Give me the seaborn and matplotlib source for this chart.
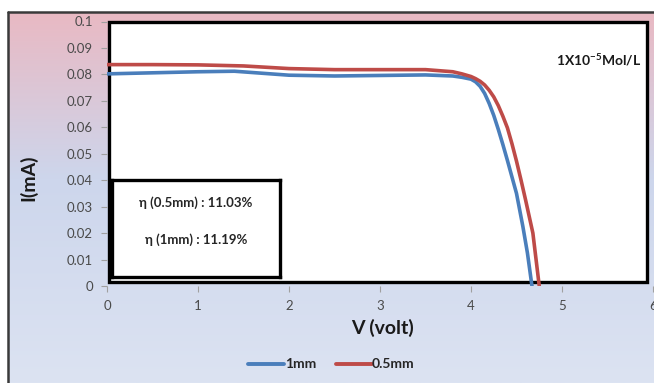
import numpy as np
import pandas as pd
import matplotlib
matplotlib.use("Agg")
import matplotlib.pyplot as plt
import seaborn as sns
from matplotlib.colors import LinearSegmentedColormap
from matplotlib.patches import Rectangle

# ---- data ----
v_1mm = [0.0, 0.5, 1.0, 1.4, 2.0, 2.5, 3.0, 3.5, 3.8, 3.9, 4.0, 4.05, 4.1, 4.15, 4.2, 4.25, 4.3,
         4.35, 4.4, 4.5, 4.57, 4.62, 4.67]
i_1mm = [0.0802, 0.0806, 0.0810, 0.0812, 0.0797, 0.0794, 0.0796, 0.0798, 0.0794, 0.0789, 0.0782,
         0.0772, 0.0755, 0.0728, 0.0690, 0.0645, 0.0592, 0.0535, 0.0475, 0.0350, 0.0225,
         0.0125, 0.0]
v_05mm = [0.0, 0.5, 1.0, 1.5, 2.0, 2.5, 3.0, 3.5, 3.8, 3.9, 4.0, 4.05, 4.1, 4.15, 4.2, 4.25, 4.3,
          4.35, 4.4, 4.45, 4.5, 4.55, 4.6, 4.68, 4.75]
i_05mm = [0.0837, 0.0837, 0.0836, 0.0832, 0.0822, 0.0818, 0.0818, 0.0818, 0.0810, 0.0802, 0.0792,
          0.0784, 0.0774, 0.0760, 0.0740, 0.0715, 0.0682, 0.0642, 0.0598, 0.0538, 0.0472,
          0.0400, 0.0325, 0.0200, 0.0]
series_names = ["1mm", "0.5mm"]
series_colors = ["#4a7ebb", "#be4b48"]
x_ticks = [0, 1, 2, 3, 4, 5, 6]
y_ticks = [0, 0.01, 0.02, 0.03, 0.04, 0.05, 0.06, 0.07, 0.08, 0.09, 0.1]
y_tick_labels = ["0", "0.01", "0.02", "0.03", "0.04", "0.05", "0.06", "0.07", "0.08", "0.09", "0.1"]
eta_lines = ["η (0.5mm) : 11.03%", "η (1mm) : 11.19%"]

df = pd.concat([
    pd.DataFrame({"V": v_1mm, "I": i_1mm, "s": series_names[0]}),
    pd.DataFrame({"V": v_05mm, "I": i_05mm, "s": series_names[1]}),
], ignore_index=True)

sns.set_theme(style="white")
plt.rcParams["font.family"] = ["Lato", "DejaVu Sans"]
plt.rcParams["mathtext.fontset"] = "custom"
plt.rcParams["mathtext.rm"] = "Lato:bold"
plt.rcParams["mathtext.default"] = "rm"

W, H = 654, 383
fig = plt.figure(figsize=(W / 100, H / 100), dpi=100)
fig.patch.set_facecolor("white")

# background gradient panel
bx0, by1 = 8, 12
bg = fig.add_axes([bx0 / W, 0, 1 - bx0 / W, (H - by1) / H], zorder=0)
cmap = LinearSegmentedColormap.from_list(
    "bg", [(0.0, "#e9b9c3"), (0.45, "#cdd6ec"), (1.0, "#dce3f2")])
grad = np.linspace(0, 1, 256).reshape(-1, 1)
bg.imshow(grad, aspect="auto", cmap=cmap, extent=[0, 1, 0, 1], origin="upper")
bg.set_xlim(0, 1)
bg.set_ylim(0, 1)
bg.axis("off")
bg.plot([0, 0], [0, 1], color="#3a3a3a", lw=1.8, transform=bg.transAxes, clip_on=False)
bg.plot([0, 1], [1, 1], color="#3a3a3a", lw=1.8, transform=bg.transAxes, clip_on=False)

# main axes
ax_l, ax_r, ax_t, ax_b = 107, 653, 21.5, 286
ax = fig.add_axes([ax_l / W, (H - ax_b) / H, (ax_r - ax_l) / W, (ax_b - ax_t) / H], zorder=2)
ax.set_facecolor("none")
ax.add_patch(Rectangle((0.004, 0.015), 0.985, 0.983, transform=ax.transAxes,
                       facecolor="white", edgecolor="black", lw=2.4, zorder=0, clip_on=False))

sns.lineplot(data=df, x="V", y="I", hue="s", hue_order=series_names, palette=series_colors,
             sort=False, estimator=None, lw=2.6, ax=ax, legend=False, zorder=3)
for ln in ax.lines:
    ln.set_solid_joinstyle("round")

ax.set_xlim(0, 6)
ax.set_ylim(0, 0.1)
for s in ax.spines.values():
    s.set_visible(False)
ax.set_xticks(x_ticks)
ax.set_xticklabels([str(t) for t in x_ticks])
ax.set_yticks(y_ticks)
ax.set_yticklabels(y_tick_labels)
ax.tick_params(axis="both", which="both", length=4, width=0.8, color="#a0a0a0",
               labelsize=9.5, labelcolor="#4a4a4a", pad=6, left=True, bottom=True)
ax.set_xlabel("")
ax.set_ylabel("")

# concentration label
ax.text(0.978, 0.855, r"1X10$^{-5}$Mol/L", transform=ax.transAxes, ha="right", va="center",
        fontsize=10, fontweight="bold", color="#1a1a1a")

# efficiency box
bx = fig.add_axes([112 / W, (H - 277) / H, (280 - 112) / W, (277 - 180) / H], zorder=4)
bx.set_xticks([])
bx.set_yticks([])
bx.set_facecolor("white")
for s in bx.spines.values():
    s.set_color("black")
    s.set_linewidth(2.4)
bx.text(0.5, 0.77, eta_lines[0], ha="center", va="center", fontsize=9.5,
        fontweight="bold", color="#262626", transform=bx.transAxes)
bx.text(0.5, 0.38, eta_lines[1], ha="center", va="center", fontsize=9.5,
        fontweight="bold", color="#262626", transform=bx.transAxes)

# axis titles
fig.text(382 / W, 1 - 328 / H, "V (volt)", ha="center", va="center", fontsize=14,
         fontweight="bold", color="#1a1a1a")
fig.text(28 / W, 1 - 178 / H, "I(mA)", ha="center", va="center", rotation=90,
         fontsize=14, fontweight="bold", color="#1a1a1a")

# legend
ly = 1 - 364 / H
for (x0, x1, tx, name, col) in [(248, 284, 285, series_names[0], series_colors[0]),
                                (336, 372, 372, series_names[1], series_colors[1])]:
    fig.add_artist(plt.Line2D([x0 / W, x1 / W], [ly, ly], color=col, lw=2.8,
                              transform=fig.transFigure))
    fig.text(tx / W, ly, name, ha="left", va="center", fontsize=10, fontweight="bold",
             color="#262626")

fig.savefig("out.png", dpi=100)
